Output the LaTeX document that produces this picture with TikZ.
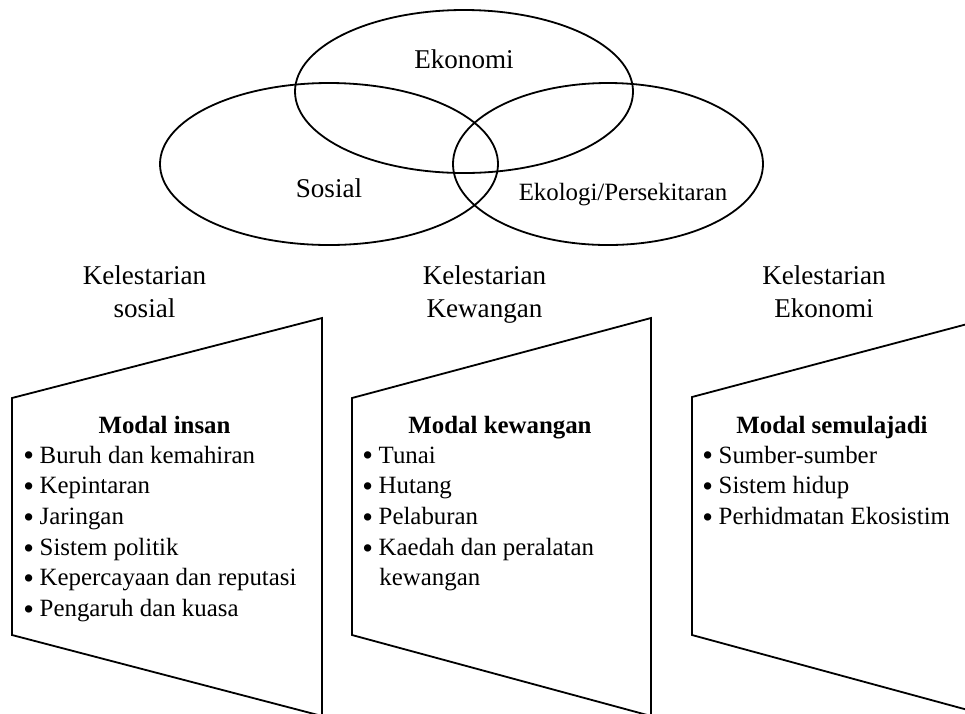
\documentclass[tikz,border=0pt]{standalone}
\usepackage{fontspec}
\setmainfont{Liberation Serif}

\tikzset{
  garis/.style={line width=0.8pt},
  bulat/.style={font=\fontsize{12}{14}\selectfont, anchor=base, inner sep=0pt},
  judul/.style={font=\fontsize{12}{14.2}\selectfont, align=center, anchor=base, inner sep=0pt},
  tajuk/.style={font=\fontsize{11}{13}\selectfont\bfseries, anchor=base, inner sep=0pt},
  butir/.style={font=\fontsize{11}{13}\selectfont, anchor=base west, inner sep=0pt},
}
\newcommand{\titik}{\makebox[7.2pt][l]{\raisebox{-1.3pt}{\fontsize{13.5}{13}\selectfont\textbullet}}}

\begin{document}
\begin{tikzpicture}[x=0.4425pt, y=-0.4425pt]
    \useasboundingbox (0,0) rectangle (965,713);
    \clip (0,0) rectangle (965,713);

    % tiga bulatan
    \draw[garis] (464,91.5) ellipse (169 and 81.5);
    \draw[garis] (329,164) ellipse (169 and 81);
    \draw[garis] (608,164) ellipse (155 and 81);
    \node[bulat] (eko) at (464,68) {Ekonomi};
    \node[bulat] (sos) at (329,197) {Sosial};
    \node[bulat, font=\fontsize{11}{13}\selectfont] (ekl) at (623,200) {Ekologi/Persekitaran};

    % kelestarian (base = baris kedua)
    \node[judul] (kelSos) at (144.5,317) {Kelestarian\\sosial};
    \node[judul] (kelKew) at (484.5,317) {Kelestarian\\Kewangan};
    \node[judul] (kelEko) at (824,317) {Kelestarian\\Ekonomi};

    % bentuk trapezium
    \draw[garis] (12,398) -- (322,318) -- (322,716) -- (12,635) -- cycle;
    \draw[garis] (352,398) -- (651,318) -- (651,716) -- (352,635) -- cycle;
    \draw[garis] (692,397) -- (990,318) -- (990,716) -- (692,635) -- cycle;

    % modal insan
    \node[tajuk] (insan) at (164.5,433) {Modal insan};
    \foreach \teks [count=\i from 0] in {Buruh dan kemahiran, Kepintaran, Jaringan,
        Sistem politik, Kepercayaan dan reputasi, Pengaruh dan kuasa}
      \node[butir] (insan-\i) at (23,463+30.7*\i) {\titik\teks};

    % modal kewangan
    \node[tajuk] (kewangan) at (500,433) {Modal kewangan};
    \foreach \teks [count=\i from 0] in {Tunai, Hutang, Pelaburan, Kaedah dan peralatan}
      \node[butir] (kew-\i) at (362,463+30.7*\i) {\titik\teks};
    \node[butir] (kew-4) at (379,585.8) {kewangan};

    % modal semulajadi
    \node[tajuk] (alam) at (832,433) {Modal semulajadi};
    \foreach \teks [count=\i from 0] in {Sumber-sumber, Sistem hidup, Perhidmatan Ekosistim}
      \node[butir] (alam-\i) at (702,463+30.7*\i) {\titik\teks};
\end{tikzpicture}
\end{document}
